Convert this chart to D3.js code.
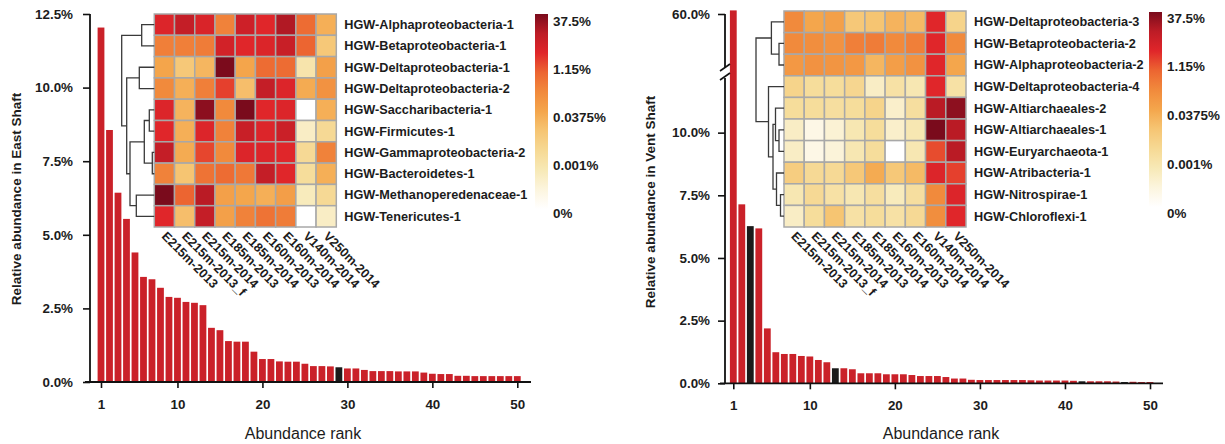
<!DOCTYPE html>
<html>
<head>
<meta charset="UTF-8">
<title></title>
<script src="https://cdn.jsdelivr.net/npm/d3@7"></script>
<style>
    body{margin:0;background:#fff;}
    svg text{font-family:"Liberation Sans",Arial,sans-serif;fill:#1c1c1c;}
</style>
</head>
<body>
<svg id="chart" width="1225" height="444"></svg>
<script>
    // ---- data ----
    var ranks = d3.range(1, 51);
    var eastAbund = [12.04, 8.56, 6.43, 5.54, 4.40, 3.57, 3.49, 3.20, 2.89, 2.86,
        2.72, 2.69, 2.61, 1.84, 1.76, 1.39, 1.37, 1.37, 1.03, 0.78,
        0.78, 0.70, 0.69, 0.69, 0.62, 0.54, 0.54, 0.53, 0.50, 0.46,
        0.46, 0.41, 0.37, 0.37, 0.37, 0.36, 0.36, 0.36, 0.32, 0.28,
        0.27, 0.27, 0.21, 0.21, 0.20, 0.20, 0.20, 0.20, 0.20, 0.20];
    var eastBlack = [29];
    var ventAbund = [60.2, 7.14, 6.27, 6.18, 2.19, 1.24, 1.17, 1.17, 1.09, 1.07,
        0.93, 0.84, 0.60, 0.60, 0.56, 0.40, 0.40, 0.40, 0.36, 0.36,
        0.36, 0.33, 0.29, 0.29, 0.29, 0.25, 0.19, 0.19, 0.14, 0.13,
        0.13, 0.13, 0.13, 0.13, 0.13, 0.12, 0.11, 0.11, 0.11, 0.11,
        0.10, 0.08, 0.08, 0.08, 0.08, 0.07, 0.05, 0.06, 0.05, 0.05];
    var ventBlack = [3, 13, 42, 47];
    var rankTicks = [1, 10, 20, 30, 40, 50];
    var eastTicks = [0, 2.5, 5, 7.5, 10, 12.5];
    var ventTicks = [0, 2.5, 5, 7.5, 10, 60];

    var samples = ['E215m-2013', 'E215m-2013_f', 'E215m-2014', 'E185m-2013', 'E185m-2014',
        'E160m-2013', 'E160m-2014', 'V140m-2014', 'V250m-2014'];
    var eastTaxa = ['HGW-Alphaproteobacteria-1', 'HGW-Betaproteobacteria-1', 'HGW-Deltaproteobacteria-1',
        'HGW-Deltaproteobacteria-2', 'HGW-Saccharibacteria-1', 'HGW-Firmicutes-1',
        'HGW-Gammaproteobacteria-2', 'HGW-Bacteroidetes-1', 'HGW-Methanoperedenaceae-1', 'HGW-Tenericutes-1'];
    var ventTaxa = ['HGW-Deltaproteobacteria-3', 'HGW-Betaproteobacteria-2', 'HGW-Alphaproteobacteria-2',
        'HGW-Deltaproteobacteria-4', 'HGW-Altiarchaeales-2', 'HGW-Altiarchaeales-1',
        'HGW-Euryarchaeota-1', 'HGW-Atribacteria-1', 'HGW-Nitrospirae-1', 'HGW-Chloroflexi-1'];

    // abundance (%) per taxon x sample
    var eastHeat = [
        [2.7, 7, 3, 0.2, 5, 2.3, 12, 0.45, 0.025],
        [0.22, 0.22, 0.25, 4, 2.3, 2.8, 6, 0.58, 0.007],
        [0.04, 0.007, 0.018, 37, 0.04, 0.45, 0.45, 0.0007, 0.05],
        [0.15, 0.025, 0.22, 1.3, 0.012, 7, 2.7, 0.03, 0.1],
        [2.7, 0.02, 26, 0.15, 37.5, 2.3, 2.7, 0, 0.025],
        [2.3, 0.025, 2.7, 0.2, 6, 2.7, 5.5, 0.0002, 0.002],
        [7, 0.03, 1.15, 0.15, 2.7, 2.7, 2.3, 0.002, 0.2],
        [0.2, 0.009, 0.35, 0.45, 0.29, 7, 2.3, 0.0015, 0.025],
        [37.5, 0.58, 10, 0.05, 0.0375, 0.025, 0.055, 0.0003, 0.002],
        [2.3, 0.012, 7, 0.05, 0.2, 0.35, 0.25, 0, 0.0002]
    ];
    var ventHeat = [
        [0.15, 0.0375, 0.05, 0.007, 0.009, 0.02, 0.015, 2.3, 0.003],
        [0.15, 0.12, 0.1, 0.22, 0.25, 0.15, 0.22, 2.3, 0.15],
        [0.074, 0.1, 0.085, 0.074, 0.018, 0.055, 0.1, 2.3, 0.0375],
        [0.003, 0.0015, 0.0015, 0.0025, 0.0002, 0.001, 0.0005, 2.3, 0.001],
        [0.0015, 0.0015, 0.0013, 0.0015, 0.003, 0.00015, 0.0013, 10, 25],
        [0.0002, 0.00004, 0.0001, 0.0005, 0.0015, 0.00015, 0.0005, 37.5, 10],
        [0.0002, 0.00004, 0.00008, 0.0005, 0.0015, 0, 0.0005, 1, 10],
        [0.005, 0.002, 0.002, 0.007, 0.03, 0.007, 0.015, 2.7, 1.3],
        [0.0005, 0.002, 0.001, 0.0005, 0.0013, 0.0003, 0.0013, 0.15, 2.7],
        [0.0002, 0.0015, 0.009, 0.001, 0.0015, 0.001, 0.002, 0.12, 2.3]
    ];
    // row clustering: [child, child, height]; leaves are 0..9, merges numbered from 10
    var eastMerges = [[0, 1, 12.6], [2, 3, 15], [4, 5, 5], [6, 7, 2], [12, 13, 10],
        [8, 9, 18], [14, 15, 24.3], [11, 16, 27.6], [10, 17, 32.6]];
    var ventMerges = [[1, 2, 5], [0, 10, 12.6], [5, 6, 5], [4, 12, 8.5], [8, 9, 3.5],
        [7, 14, 7.5], [13, 15, 11], [3, 16, 15.5], [11, 17, 28]];

    var legendValues = [0, 0.001, 0.0375, 1.15, 37.5];
    var legendLabels = ['0%', '0.001%', '0.0375%', '1.15%', '37.5%'];

    // ---- colour ----
    var colorRamp = d3.piecewise(d3.interpolateRgb, ['#ffffff', '#fcf5de', '#f7e9b6', '#f6d994', '#f6c573',
        '#f4a64c', '#f18a3c', '#ec6531', '#e0262a', '#bd1c26', '#7a0b1c']);
    var tLog = d3.scaleLinear()
            .domain([-5, -3, Math.log10(0.0375), Math.log10(1.15), Math.log10(37.5)])
            .range([0, 0.25, 0.5, 0.75, 1]).clamp(true);
    function tOf(v){ return v <= 0 ? 0 : tLog(Math.log10(v)); }
    function color(v){ return colorRamp(tOf(v)); }

    var svg = d3.select('#chart');
    var defs = svg.append('defs');
    var grad = defs.append('linearGradient').attr('id', 'legGrad')
            .attr('x1', 0).attr('y1', 1).attr('x2', 0).attr('y2', 0);
    d3.range(0, 1.0001, 0.05).forEach(function(t){
        grad.append('stop').attr('offset', t).attr('stop-color', colorRamp(t));
    });

    function styleAxis(g, fs){
        g.attr('font-family', '"Liberation Sans",Arial,sans-serif')
         .attr('font-size', fs).attr('font-weight', 'bold');
        g.selectAll('line').attr('stroke', '#111').attr('stroke-width', 1.6);
        g.selectAll('text').attr('fill', '#1c1c1c');
        g.select('.domain').remove();
    }

    function drawBars(opt){
        var g = svg.append('g');
        var step = opt.x(2) - opt.x(1);
        g.selectAll('rect.bar').data(opt.values).enter().append('rect')
                .attr('class', 'bar')
                .attr('x', function(d, i){ return opt.x(ranks[i]) - step * 0.4; })
                .attr('width', step * 0.8)
                .attr('y', function(d){ return opt.y(d); })
                .attr('height', function(d){ return opt.y(0) - opt.y(d); })
                .attr('fill', function(d, i){ return opt.black.indexOf(ranks[i]) >= 0 ? '#1a1a1a' : '#ca2129'; });

        var ya = g.append('g').attr('transform', 'translate(' + opt.axisX + ',0)')
                .call(d3.axisLeft(opt.y).tickValues(opt.yTicks).tickSize(7).tickPadding(opt.pad)
                        .tickFormat(function(d){ return d.toFixed(1) + '%'; }));
        styleAxis(ya, 13.4);
        var xa = g.append('g').attr('transform', 'translate(0,' + opt.y(0) + ')')
                .call(d3.axisBottom(opt.x).tickValues(rankTicks).tickSize(6).tickPadding(11));
        styleAxis(xa, 13.4);
        // axis lines
        g.append('line').attr('x1', opt.xLine[0]).attr('x2', opt.xLine[1])
                .attr('y1', opt.y(0)).attr('y2', opt.y(0)).attr('stroke', '#111').attr('stroke-width', 1.8);
        opt.ySegs.forEach(function(s){
            g.append('line').attr('x1', opt.axisX).attr('x2', opt.axisX)
                    .attr('y1', s[0]).attr('y2', s[1]).attr('stroke', '#111').attr('stroke-width', 1.8);
        });
        g.append('text').attr('x', opt.titleX).attr('y', 438.5).attr('text-anchor', 'middle')
                .attr('font-size', 16).attr('fill', '#2a2a2a').text('Abundance rank');
        g.append('text').attr('transform', 'translate(' + opt.yTitle[0] + ',' + opt.yTitle[1] + ') rotate(-90)')
                .attr('text-anchor', 'middle').attr('font-size', 13.5).attr('font-weight', 'bold')
                .text(opt.yLabel);
        return g;
    }

    function drawHeat(opt){
        var g = svg.append('g');
        var xb = d3.scaleBand().domain(d3.range(samples.length)).range([opt.x0, opt.x0 + 182]);
        var yb = d3.scaleBand().domain(d3.range(opt.taxa.length)).range([opt.y0, opt.y0 + opt.h]);
        opt.matrix.forEach(function(row, r){
            g.selectAll('rect.r' + r).data(row).enter().append('rect')
                    .attr('x', function(d, c){ return xb(c); })
                    .attr('y', yb(r))
                    .attr('width', xb.bandwidth()).attr('height', yb.bandwidth())
                    .attr('fill', function(d){ return color(d); })
                    .attr('stroke', '#a8a8a8').attr('stroke-width', 1.5);
        });
        g.selectAll('text.row').data(opt.taxa).enter().append('text')
                .attr('x', opt.x0 + 182 + 8)
                .attr('y', function(d, i){ return yb(i) + yb.bandwidth() / 2; })
                .attr('dy', '0.35em').attr('font-size', 12.7).attr('font-weight', 'bold')
                .text(function(d){ return d; });
        g.selectAll('text.col').data(samples).enter().append('text')
                .attr('transform', function(d, i){
                    return 'translate(' + (xb(i) + xb.bandwidth() / 2 - 3.5) + ',' + (opt.y0 + opt.h + 10) + ') rotate(45)';
                })
                .attr('font-size', 12.7).attr('font-weight', 'bold')
                .text(function(d){ return d; });

        // dendrogram
        var tx = d3.scaleLinear().domain([0, 1]).range([opt.x0, opt.x0 - 1]);
        var pos = [];
        opt.taxa.forEach(function(d, i){ pos.push({x: tx(0), y: yb(i) + yb.bandwidth() / 2}); });
        opt.merges.forEach(function(m){
            var a = pos[m[0]], b = pos[m[1]], x = tx(m[2]);
            g.append('path')
                    .attr('d', 'M' + a.x + ',' + a.y + 'H' + x + 'V' + b.y + 'H' + b.x)
                    .attr('fill', 'none').attr('stroke', '#3a3a3a').attr('stroke-width', 1.3);
            pos.push({x: x, y: (a.y + b.y) / 2});
        });

        // colour legend
        var ly = d3.scaleLinear().domain([0, 1]).range([opt.leg.yb, opt.leg.yt]);
        g.append('rect').attr('x', opt.leg.x).attr('y', opt.leg.top).attr('width', 13)
                .attr('height', opt.leg.bottom - opt.leg.top).attr('fill', 'url(#legGrad)');
        g.selectAll('text.leg').data(legendValues).enter().append('text')
                .attr('x', opt.leg.x + 18)
                .attr('y', function(d){ return ly(tOf(d)); })
                .attr('dy', '0.35em').attr('font-size', 13.4).attr('font-weight', 'bold')
                .text(function(d, i){ return legendLabels[i]; });
    }

    // ---- East Shaft ----
    drawBars({
        values: eastAbund, black: eastBlack,
        x: d3.scaleLinear().domain([1, 50]).range([101, 517.3]),
        y: d3.scaleLinear().domain([0, 12.5]).range([382, 14]),
        yTicks: eastTicks, axisX: 90, pad: 10,
        xLine: [85, 531], ySegs: [[14, 382]],
        titleX: 303, yTitle: [21, 199], yLabel: 'Relative abundance in East Shaft'
    });
    drawHeat({
        x0: 154.3, y0: 14, h: 213, taxa: eastTaxa, matrix: eastHeat, merges: eastMerges,
        leg: {x: 535, top: 14, bottom: 209, yb: 213, yt: 21}
    });

    // ---- Vent Shaft (broken axis) ----
    var vg = drawBars({
        values: ventAbund, black: ventBlack,
        x: d3.scaleLinear().domain([1, 50]).range([733.3, 1150]),
        y: d3.scaleLinear().domain([0, 12.1, 57, 60]).range([383.3, 80, 68, 14]),
        yTicks: ventTicks, axisX: 725, pad: 8,
        xLine: [720, 1163], ySegs: [[14, 67], [78, 383.3]],
        titleX: 941, yTitle: [655, 202], yLabel: 'Relative abundance in Vent Shaft'
    });
    [0, 9].forEach(function(o){
        vg.append('line').attr('x1', 720).attr('y1', 71 + o).attr('x2', 730).attr('y2', 64 + o)
                .attr('stroke', '#111').attr('stroke-width', 1.6);
    });
    drawHeat({
        x0: 784, y0: 11, h: 216, taxa: ventTaxa, matrix: ventHeat, merges: ventMerges,
        leg: {x: 1149, top: 12, bottom: 207, yb: 213, yt: 18}
    });
</script>
</body>
</html>
